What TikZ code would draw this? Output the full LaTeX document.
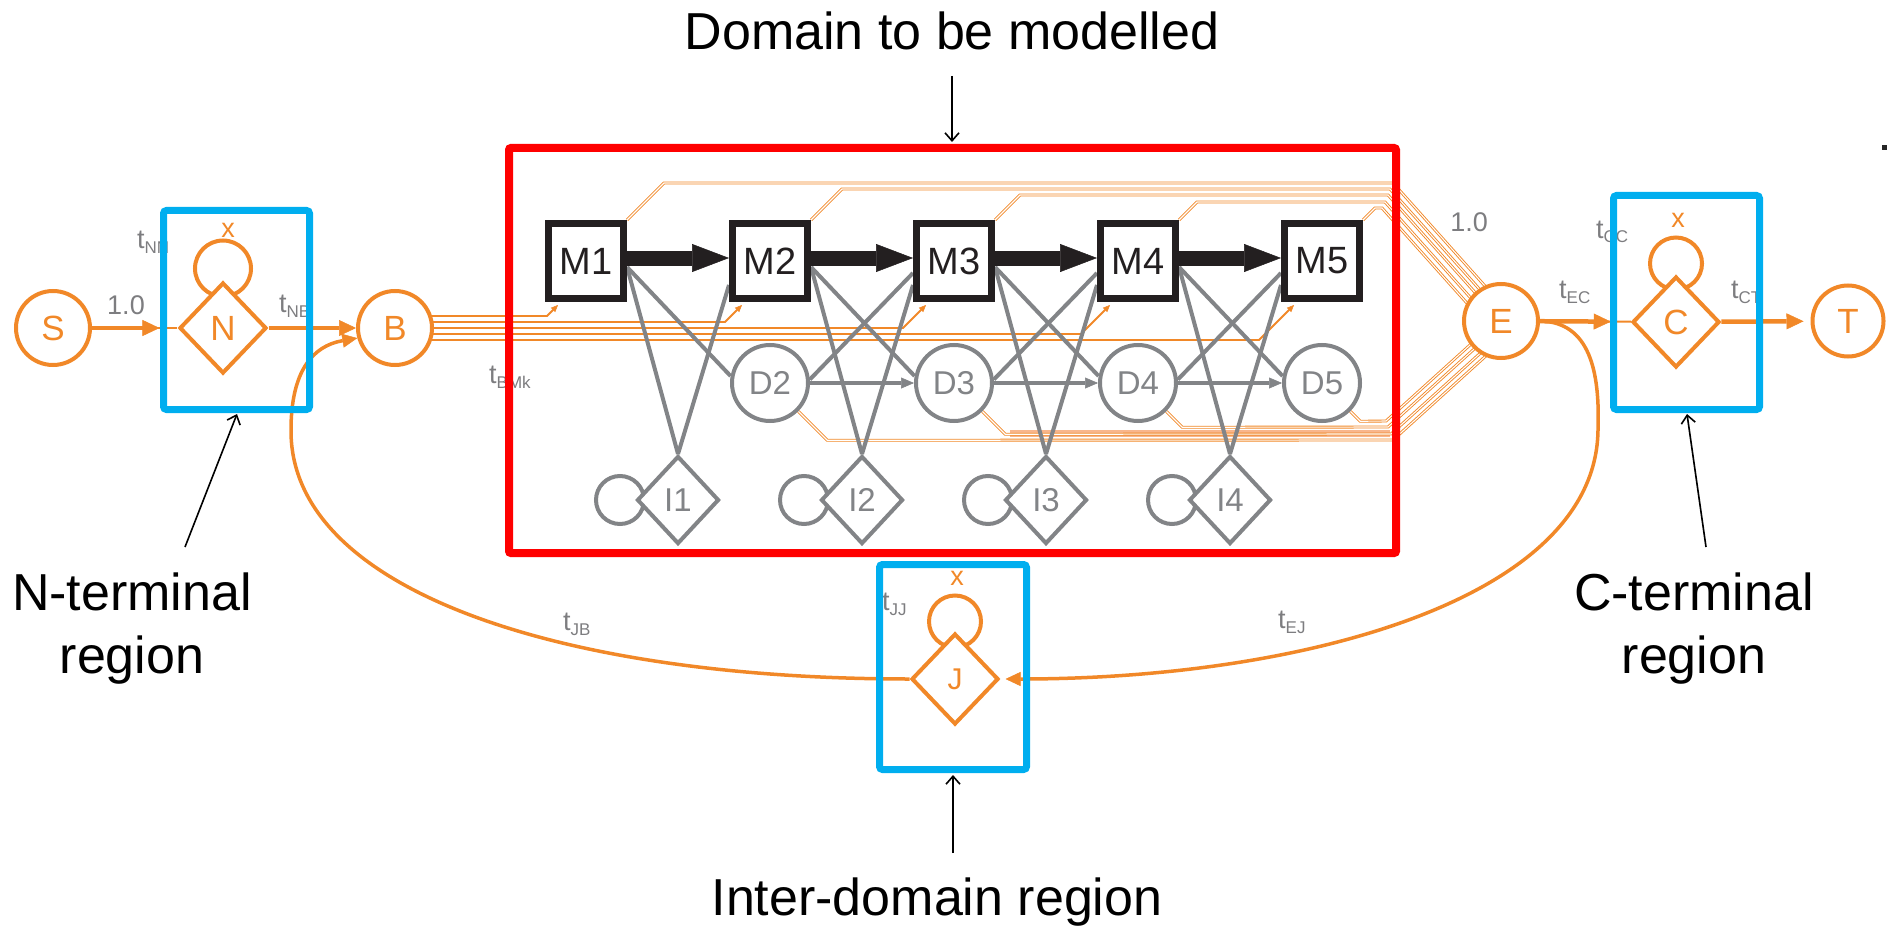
\documentclass[tikz,border=0pt]{standalone}
\usepackage{fontspec}
\setmainfont{Liberation Sans}
\usetikzlibrary{shapes.geometric,arrows.meta,calc}
\definecolor{orng}{RGB}{241,136,40}
\definecolor{orngl}{RGB}{248,182,140}
\definecolor{gry}{RGB}{130,132,135}
\definecolor{gtxt}{RGB}{125,125,128}
\definecolor{cyanb}{RGB}{0,174,239}
\definecolor{redb}{RGB}{255,0,0}
\definecolor{blk}{RGB}{35,31,32}
\pgfdeclarelayer{bg}
\pgfdeclarelayer{fg}
\pgfsetlayers{bg,main,fg}
\newcommand\szNode{\fontsize{35}{40}\selectfont}
\newcommand\szM{\fontsize{38}{44}\selectfont}
\newcommand\szD{\fontsize{33}{38}\selectfont}
\newcommand\szLab{\fontsize{27}{30}\selectfont}
\newcommand\szAnn{\fontsize{52}{62}\selectfont}
\newcommand\tlab[1]{t\raisebox{-5pt}{\fontsize{17}{20}\selectfont #1}}
\begin{document}
\begin{tikzpicture}[x=1pt,y=-1pt,
 onode/.style={circle,draw=orng,line width=4pt,fill=white,text=orng,inner sep=0pt,minimum size=74pt,font=\szNode},
 odia/.style={diamond,draw=orng,line width=4pt,fill=white,text=orng,inner sep=0pt,minimum width=87pt,minimum height=91pt,font=\szNode},
 mbox/.style={rectangle,draw=blk,line width=7pt,fill=white,text=blk,inner sep=0pt,minimum size=75pt,font=\szM},
 dnode/.style={circle,draw=gry,line width=4pt,fill=white,text=gry,inner sep=0pt,minimum size=76pt,font=\szD},
 idia/.style={diamond,draw=gry,line width=4pt,fill=white,text=gry,inner sep=0pt,minimum width=82pt,minimum height=88pt,font=\szD},
 oloop/.style={draw=orng,line width=4pt},
 gloop/.style={draw=gry,line width=4pt},
 othick/.style={draw=orng,line width=4.5pt},
 othin/.style={draw=orng,line width=2pt},
 ocurve/.style={draw=orng,line width=3.5pt},
 otip/.style={-{Triangle[length=17pt,width=16pt,line width=0.5pt]}},
 gline/.style={draw=gry,line width=4pt},
 barrow/.style={draw=blk,line width=15pt,-{Triangle[length=37pt,width=28pt,line width=0.5pt]}},
 bund/.style={draw=orng,line width=0.9pt,double=white,double distance=1.1pt},
 bundb/.style={draw=orng,line width=1.8pt,-{Triangle[length=7pt,width=6pt,line width=0.5pt]}},
 band/.style={draw=orngl,line width=7pt},
 glab/.style={text=gtxt,font=\szLab,inner sep=0pt},
 xlab/.style={text=orng,font=\szLab,inner sep=0pt},
 bbox/.style={draw=cyanb,line width=7pt,rounded corners=3pt},
 rbox/.style={draw=redb,line width=8pt,rounded corners=2pt},
 ann/.style={text=black,font=\szAnn,inner sep=0pt},
 annarrow/.style={draw=black,line width=1.6pt,-{Straight Barb[length=8pt,width=14pt]}}
]
\useasboundingbox (0,0) rectangle (1887,928);

% ---------- nodes ----------
\node[onode] (S) at (53,328) {S};
\node[odia] (N) at (223,328) {N};
\node[onode] (B) at (395,328) {B};
\foreach \i/\x in {1/586,2/770,3/954,4/1138,5/1322} \node[mbox] (M\i) at (\x,261) {M\i};
\foreach \i/\x in {2/770,3/954,4/1138,5/1322} \node[dnode] (D\i) at (\x,383) {D\i};
\foreach \i/\x in {1/678,2/862,3/1046,4/1230} \node[idia] (I\i) at (\x,500) {I\i};
\node[onode] (E) at (1501,321) {E};
\node[odia] (C) at (1676,322) {C};
\node[onode,minimum size=71pt] (T) at (1848,321) {T};
\node[odia,font=\fontsize{30}{34}\selectfont] (J) at (955,679) {J};

% ---------- background connectors ----------
\begin{pgfonlayer}{bg}
 \draw[band] (1010,433) -- (1390,433);
 \foreach \i/\y/\cx in {1/183/1393,2/189/1390,3/195/1388,4/202/1385,5/208/1382}
  \draw[bund] (M\i.north east) -- ++({220-\y},{\y-220}) -- (\cx,\y) -- ++(100,112);
 \foreach \i/\y/\cx in {2/440/1393,3/434/1391,4/427/1388,5/421/1386}
  \draw[bund] (D\i.-45) -- ++({\y-411},{\y-411}) -- (\cx,\y) -- ++(95,-86);
 \foreach \i/\x/\y in {1/586/316,2/770/322,3/954/328,4/1138/334,5/1322/340}
  \draw[bundb] ($(B.center)+(25,{\y-328})$) -- ({\x-28-(\y-305)},\y) -- ($(M\i.south west)+(13,3)$);
 \foreach \i/\j in {1/2,2/3,3/4,4/5} {
  \draw[gline] ($(M\i.east)+(0,6)$) -- (D\j.170);
  \draw[gline] ($(M\i.east)+(0,6)$) -- (I\i.north);
  \draw[gline] (I\i.north) -- ($(M\j.west)+(0,24)$);
 }
 \foreach \i/\j in {2/3,3/4,4/5} {
  \draw[gline] (D\i.5) -- ($(M\j.west)+(0,12)$);
  \draw[gline,-{Triangle[length=13pt,width=11pt,line width=0.5pt]}] (D\i) -- (D\j);
 }
 \foreach \i in {1,...,4} \draw[gloop] ($(I\i.west)+(-15,0)$) circle[radius=24pt];
 \draw[oloop] ($(N.north)+(0,-12)$) circle[radius=28pt];
 \draw[oloop] ($(C.north)+(0,-11)$) circle[radius=26pt];
 \draw[oloop] ($(J.north)+(0,-10)$) circle[radius=26pt];
\end{pgfonlayer}

% ---------- main connectors ----------
\foreach \i/\j in {1/2,2/3,3/4,4/5} \draw[barrow] ($(M\i.east)+(0,-3)$) -- ($(M\j.west)+(0,-3)$);
\draw[othin] (S) -- (N);
\draw[othick,otip,shorten >=18pt] (S) -- (N);
\draw[othick,otip] (N) -- (B);
\draw[othin] (E) -- (C);
\draw[othick,otip,shorten >=20pt] (E) -- (C);
\draw[othick,otip,shorten >=7pt] (C) -- (T);
\draw[ocurve,-{Triangle[length=15pt,width=14pt,line width=0.5pt]}] (J.west) .. controls (560,679) and (290,590) .. (291,430) .. controls (291,372) and (312,346) .. (B.195);
\draw[ocurve,-{Triangle[length=15pt,width=14pt,line width=0.5pt]}] (E.east) .. controls (1590,322) and (1600,372) .. (1598,430) .. controls (1596,600) and (1300,679) .. ($(J.east)+(5,0)$);

% ---------- labels ----------
\node[glab,anchor=base west] (lNN) at (137,248) {\tlab{NN}};
\node[glab] (l10a) at (126,305) {1.0};
\node[xlab] (xN) at (228,230) {x};
\node[glab,anchor=base west] (lNB) at (279,312) {\tlab{NB}};
\node[glab,anchor=base west] (lBM) at (489,383) {\tlab{BMk}};
\node[glab] (l10b) at (1469,222) {1.0};
\node[glab,anchor=base west] (lEC) at (1559,298) {\tlab{EC}};
\node[glab,anchor=base west] (lCC) at (1596,238) {\tlab{CC}};
\node[xlab] (xC) at (1678,220) {x};
\node[glab,anchor=base west] (lCT) at (1731,298) {\tlab{CT}};
\node[glab,anchor=base west] (lJJ) at (882,610) {\tlab{JJ}};
\node[xlab] (xJ) at (957,578) {x};
\node[glab,anchor=base west] (lJB) at (563,630) {\tlab{JB}};
\node[glab,anchor=base west] (lEJ) at (1278,628) {\tlab{EJ}};

\node[ann,anchor=base] (tdom) at (952,50) {Domain to be modelled};
\node[ann,anchor=base] (tN1) at (132,610) {N-terminal};
\node[ann,anchor=base] (tN2) at (132,673) {region};
\node[ann,anchor=base] (tC1) at (1694,610) {C-terminal};
\node[ann,anchor=base] (tC2) at (1694,673) {region};
\node[ann,anchor=base] (tI) at (937,915) {Inter-domain region};

% ---------- foreground frames and pointers ----------
\begin{pgfonlayer}{fg}
 \draw[rbox] (509,148) rectangle (1396,553);
 \draw[bbox] (163.5,210.5) rectangle (309.5,409.5);
 \draw[bbox] (1613.5,195.5) rectangle (1759.5,409.5);
 \draw[bbox] (879.5,564.5) rectangle (1026.5,769.5);
 \coordinate (a1s) at (952,76);  \coordinate (a1e) at (952,142);
 \coordinate (a2s) at (185,547); \coordinate (a2e) at (237,414);
 \coordinate (a3s) at (1706,547); \coordinate (a3e) at (1687,414);
 \coordinate (a4s) at (953,853); \coordinate (a4e) at (953,775);
 \draw[annarrow] (a1s) -- (a1e);
 \draw[annarrow] (a2s) -- (a2e);
 \draw[annarrow] (a3s) -- (a3e);
 \draw[annarrow] (a4s) -- (a4e);
 \fill[black!85] (1882,145) rectangle (1887,150);
\end{pgfonlayer}
\end{tikzpicture}
\end{document}
